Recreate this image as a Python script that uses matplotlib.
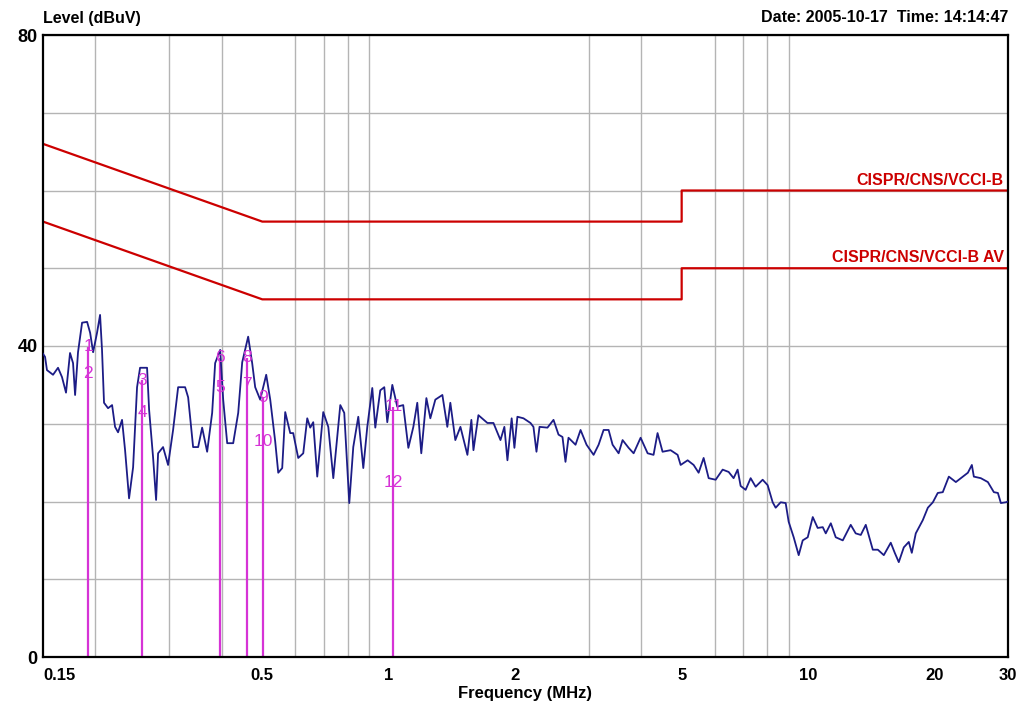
import matplotlib
matplotlib.use("Agg")
import matplotlib.pyplot as plt
from matplotlib.ticker import FixedLocator, NullFormatter

plt.rcParams["font.family"] = ["Liberation Sans", "DejaVu Sans"]

NAVY  = "#1c1c86"
RED   = "#cc0000"
MAG   = "#d633d6"
GRID  = "#b4b4b4"

freq = [
    0.150, 0.1517, 0.1533, 0.1585, 0.1629, 0.1665, 0.1702, 0.1740, 0.1769, 0.1789,
    0.1818, 0.1859, 0.1911, 0.1943, 0.1975, 0.2018, 0.2052, 0.2074, 0.2097, 0.2144,
    0.2192, 0.2228, 0.2265, 0.2315, 0.2354, 0.2406, 0.2460, 0.2514, 0.2556, 0.2656,
    0.2686, 0.2745, 0.2791, 0.2822, 0.2900, 0.2981, 0.3064, 0.3150, 0.3273, 0.3328,
    0.3420, 0.3516, 0.3594, 0.3694, 0.3797, 0.3860, 0.3968, 0.4034, 0.4124, 0.4262,
    0.4381, 0.4478, 0.4627, 0.4730, 0.4809, 0.4943, 0.5109, 0.5223, 0.5368, 0.5458,
    0.5578, 0.5671, 0.5829, 0.5925, 0.6091, 0.6261, 0.6400, 0.6506, 0.6614, 0.6761,
    0.6988, 0.7184, 0.7384, 0.7673, 0.7842, 0.8061, 0.8240, 0.8470, 0.8706, 0.8899,
    0.9147, 0.9299, 0.9557, 0.9770, 0.9931, 1.021, 1.049, 1.084, 1.115, 1.146,
    1.171, 1.197, 1.231, 1.258, 1.293, 1.344, 1.381, 1.404, 1.443, 1.484,
    1.542, 1.576, 1.594, 1.638, 1.721, 1.779, 1.849, 1.889, 1.921, 1.966,
    1.996, 2.029, 2.098, 2.180, 2.216, 2.253, 2.291, 2.393, 2.474, 2.543,
    2.599, 2.642, 2.686, 2.792, 2.870, 2.966, 3.083, 3.169, 3.257, 3.348,
    3.422, 3.537, 3.615, 3.737, 3.841, 3.991, 4.148, 4.285, 4.380, 4.502,
    4.705, 4.890, 4.972, 5.167, 5.340, 5.488, 5.641, 5.799, 6.026, 6.262,
    6.472, 6.650, 6.798, 6.912, 7.104, 7.302, 7.506, 7.800, 8.017, 8.241,
    8.378, 8.610, 8.851, 8.997, 9.249, 9.507, 9.719, 9.990, 10.27, 10.55,
    10.85, 11.03, 11.34, 11.65, 12.11, 12.65, 13.00, 13.37, 13.74, 14.28,
    14.68, 15.17, 15.76, 16.11, 16.47, 16.93, 17.40, 17.69, 18.08, 18.79,
    19.32, 19.86, 20.40, 20.97, 21.68, 22.53, 23.16, 24.07, 24.60, 24.87,
    25.84, 26.86, 27.76, 28.38, 28.85, 29.65, 30.0,
]
level = [
    39.0, 38.6, 36.9, 36.3, 37.2, 36.0, 34.0, 39.1, 37.8, 33.7,
    39.2, 43.0, 43.1, 41.7, 39.2, 41.7, 44.0, 39.5, 32.7, 32.0,
    32.4, 29.6, 28.9, 30.5, 26.6, 20.4, 24.4, 34.7, 37.2, 37.2,
    31.8, 25.7, 20.2, 26.2, 27.0, 24.7, 29.2, 34.7, 34.7, 33.4,
    27.0, 27.0, 29.5, 26.4, 31.4, 37.8, 39.5, 33.1, 27.5, 27.5,
    31.4, 37.9, 41.2, 37.8, 34.7, 33.1, 36.3, 33.1, 27.7, 23.7,
    24.3, 31.5, 28.8, 28.8, 25.6, 26.2, 30.7, 29.5, 30.2, 23.2,
    31.5, 29.6, 23.0, 32.4, 31.4, 19.8, 27.0, 30.9, 24.3, 29.6,
    34.6, 29.5, 34.3, 34.7, 30.2, 35.0, 32.2, 32.4, 26.9, 29.6,
    32.7, 26.2, 33.3, 30.7, 33.1, 33.7, 29.6, 32.7, 27.9, 29.6,
    26.0, 30.5, 26.6, 31.1, 30.1, 30.1, 27.9, 29.6, 25.3, 30.7,
    26.9, 30.9, 30.7, 30.1, 29.6, 26.4, 29.6, 29.5, 30.5, 28.6,
    28.3, 25.1, 28.2, 27.3, 29.2, 27.3, 26.0, 27.3, 29.2, 29.2,
    27.3, 26.2, 27.9, 26.9, 26.2, 28.2, 26.2, 26.0, 28.8, 26.4,
    26.6, 26.0, 24.7, 25.3, 24.7, 23.7, 25.6, 23.0, 22.8, 24.1,
    23.8, 23.0, 24.1, 22.0, 21.5, 23.0, 21.9, 22.8, 22.1, 19.9,
    19.2, 19.9, 19.8, 17.4, 15.4, 13.1, 15.0, 15.4, 18.0, 16.6,
    16.7, 15.9, 17.2, 15.4, 15.0, 17.0, 15.9, 15.7, 17.0, 13.8,
    13.8, 13.1, 14.7, 13.4, 12.2, 14.1, 14.8, 13.4, 15.9, 17.6,
    19.2, 19.9, 21.1, 21.2, 23.2, 22.5, 23.0, 23.7, 24.7, 23.2,
    23.0, 22.5, 21.2, 21.1, 19.8, 19.9, 20.0,
]

# ── limit lines
limit_freq = [0.15, 0.5, 5.0, 5.0, 30.0]
limit_qp   = [66, 56, 56, 60, 60]
limit_av   = [56, 46, 46, 50, 50]

# ── peak markers: frequency, QP reading (odd no.), AV reading (even no.)
mark_freq = [0.1924, 0.2585, 0.3968, 0.4607, 0.5026, 1.027]
mark_qp   = [39.9, 35.6, 34.7, 35.0, 33.4, 32.2]
mark_av   = [36.5, 31.5, 38.5, 38.5, 27.7, 22.4]
mark_qp_no = ["1", "3", "5", "7", "9", "11"]
mark_av_no = ["2", "4", "6", "8", "10", "12"]

xtick_vals   = [0.15, 0.5, 1, 2, 5, 10, 20, 30]
xtick_labels = ["0.15", "0.5", "1", "2", "5", "10", "20", "30"]
xgrid_vals   = [0.2, 0.3, 0.4, 0.5, 0.6, 0.7, 0.8, 0.9,
                1, 2, 3, 4, 5, 6, 7, 8, 9, 10, 20]

fig = plt.figure(figsize=(10.3, 7.13), dpi=100)
ax = fig.add_axes([43 / 1030, 1 - 657 / 713, 965 / 1030, 622 / 713])

ax.set_xscale("log")
ax.set_xlim(0.15, 30)
ax.set_ylim(0, 80)

ax.xaxis.set_major_locator(FixedLocator(xtick_vals))
ax.set_xticklabels(xtick_labels, fontsize=12, fontweight="bold")
ax.get_xticklabels()[0].set_horizontalalignment("left")
ax.xaxis.set_minor_locator(FixedLocator(xgrid_vals))
ax.xaxis.set_minor_formatter(NullFormatter())
ax.set_yticks([0, 40, 80])
ax.set_yticklabels(["0", "40", "80"], fontsize=13, fontweight="bold")
ax.yaxis.set_minor_locator(FixedLocator(range(10, 80, 10)))
ax.tick_params(which="both", length=0)
ax.tick_params(axis="x", pad=8)
ax.tick_params(axis="y", pad=4)
ax.grid(True, which="minor", color=GRID, linewidth=1)
ax.grid(True, axis="y", which="major", color=GRID, linewidth=1)
ax.set_axisbelow(True)
for s in ax.spines.values():
    s.set_linewidth(1.6)
    s.set_color("black")

# limits
ax.plot(limit_freq, limit_qp, color=RED, linewidth=1.6)
ax.plot(limit_freq, limit_av, color=RED, linewidth=1.6)
ax.text(29.3, 61.3, "CISPR/CNS/VCCI-B", color=RED, fontsize=11.5,
        fontweight="bold", ha="right", va="center")
ax.text(29.3, 51.4, "CISPR/CNS/VCCI-B AV", color=RED, fontsize=11.5,
        fontweight="bold", ha="right", va="center")

# markers
for f, qp, av, nq, na in zip(mark_freq, mark_qp, mark_av, mark_qp_no, mark_av_no):
    top = max(qp, av)
    ax.vlines(f, 0, top, color=MAG, linewidth=1.6, zorder=2)
    ax.text(f, qp, nq, color=MAG, fontsize=12.5, ha="center", va="center", zorder=4)
    ax.text(f, av, na, color=MAG, fontsize=12.5, ha="center", va="center", zorder=4)

# trace
ax.plot(freq, level, color=NAVY, linewidth=1.3, zorder=3)

ax.set_xlabel("Frequency (MHz)", fontsize=12, fontweight="bold", labelpad=2)

fig.text(43 / 1030, 1 - 18 / 713, "Level (dBuV)", fontsize=11.5,
         fontweight="bold", ha="left", va="center")
fig.text(1008 / 1030, 1 - 18 / 713, "Date: 2005-10-17  Time: 14:14:47",
         fontsize=11.5, fontweight="bold", ha="right", va="center")

fig.savefig("out.png", dpi=100)
